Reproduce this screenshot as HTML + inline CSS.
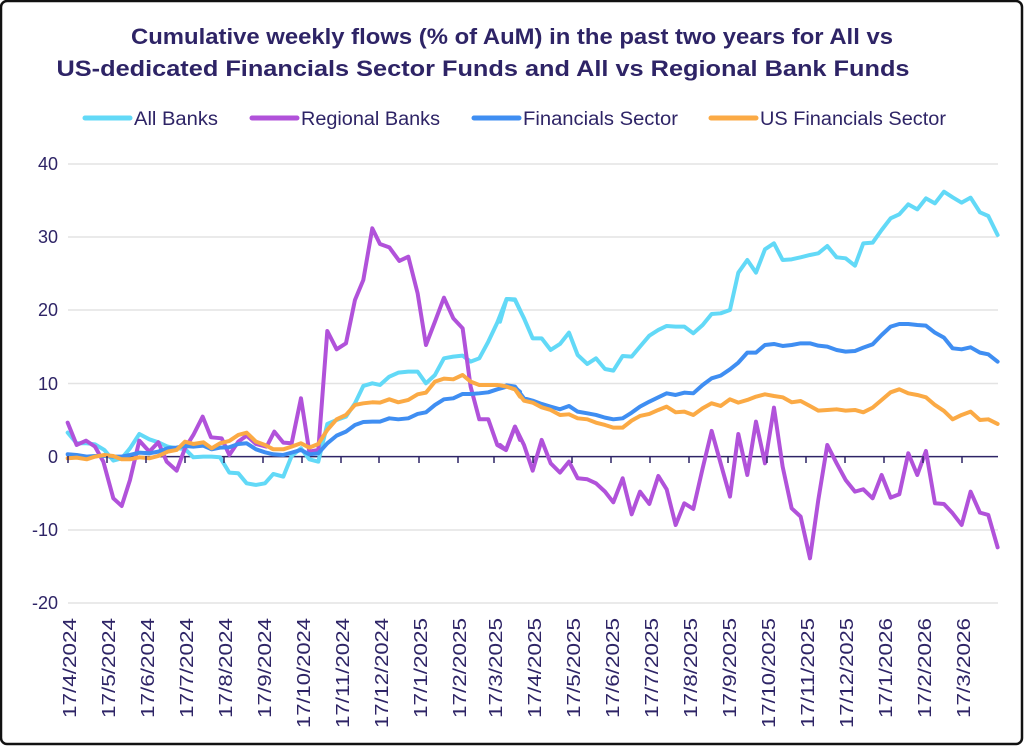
<!DOCTYPE html>
<html><head><meta charset="utf-8"><style>
html,body{margin:0;padding:0;background:#fff;}
svg{display:block;}
text{font-family:"Liberation Sans",sans-serif;fill:#2e2466;}
</style></head><body>
<svg width="1024" height="746" viewBox="0 0 1024 746" xmlns="http://www.w3.org/2000/svg">
<rect x="1" y="1" width="1021" height="743" rx="6" fill="#fff" stroke="#111" stroke-width="2.5"/>
<text x="512" y="44" text-anchor="middle" font-size="22" font-weight="bold" textLength="762" lengthAdjust="spacingAndGlyphs">Cumulative weekly flows (% of AuM) in the past two years for All vs</text>
<text x="483" y="76" text-anchor="middle" font-size="22" font-weight="bold" textLength="853" lengthAdjust="spacingAndGlyphs">US-dedicated Financials Sector Funds and All vs Regional Bank Funds</text>
<g stroke-width="5" stroke-linecap="round">
<line x1="85" y1="118" x2="130" y2="118" stroke="#62d9f7"/>
<line x1="252" y1="118" x2="297" y2="118" stroke="#b152da"/>
<line x1="474" y1="118" x2="519" y2="118" stroke="#3f8ef2"/>
<line x1="711" y1="118" x2="756" y2="118" stroke="#fbaa45"/>
</g>
<g font-size="19">
<text x="134" y="125" textLength="84" lengthAdjust="spacingAndGlyphs">All Banks</text>
<text x="301" y="125" textLength="139" lengthAdjust="spacingAndGlyphs">Regional Banks</text>
<text x="523" y="125" textLength="155" lengthAdjust="spacingAndGlyphs">Financials Sector</text>
<text x="760" y="125" textLength="186" lengthAdjust="spacingAndGlyphs">US Financials Sector</text>
</g>
<g stroke="#e3e3e3" stroke-width="1.5">
<line x1="68" y1="164" x2="998" y2="164"/>
<line x1="68" y1="237" x2="998" y2="237"/>
<line x1="68" y1="310" x2="998" y2="310"/>
<line x1="68" y1="383.5" x2="998" y2="383.5"/>
<line x1="68" y1="530" x2="998" y2="530"/>
<line x1="68" y1="603" x2="998" y2="603"/>
</g>
<g font-size="18" text-anchor="end">
<text x="58" y="170">40</text><text x="58" y="243">30</text><text x="58" y="316">20</text>
<text x="58" y="390">10</text><text x="58" y="463">0</text><text x="58" y="536">-10</text><text x="58" y="609">-20</text>
</g>
<line x1="68" y1="456.6" x2="998" y2="456.6" stroke="#2e2466" stroke-width="1.5"/>
<g fill="none" stroke-width="12" stroke-linejoin="round" stroke-linecap="round">
<g transform="translate(40,150) scale(0.3333)">
<polyline stroke="#62d9f7" points="83,848 110,880 140,880 165,883 193,900 220,932 245,925 270,895 298,852 328,868 355,877 383,890 410,895 435,897 460,922 490,920 515,920 540,922 568,968 595,970 620,1000 648,1005 675,1000 700,972 730,980 755,918 783,895 808,928 835,935 862,822 890,810 918,800 945,760 970,708 997,700 1020,705 1048,680 1075,668 1105,665 1133,665 1158,700 1185,675 1212,625 1240,620 1268,617 1292,635 1318,625 1345,575 1372,518 1400,447 1425,448 1440,480"/>
<polyline stroke="#b152da" points="83,818 110,885 138,872 165,890 190,935 220,1045 245,1068 270,990 298,872 328,905 355,877 380,935 410,962 435,895 460,855 488,800 513,862 545,865 568,915 595,875 620,857 648,882 680,890 703,845 730,878 755,880 783,745 808,905 835,900 862,543 890,598 918,580 945,450 970,390 997,235 1020,282 1048,292 1078,333 1105,320 1133,430 1158,585 1185,515 1212,443 1240,505 1268,535 1292,710 1318,808 1345,808 1372,885 1398,900 1425,830 1440,870"/>
<polyline stroke="#3f8ef2" points="83,913 110,915 140,920 165,918 193,918 220,920 245,920 270,915 298,908 328,910 355,905 383,895 410,893 435,888 460,890 490,887 515,898 540,893 568,892 595,882 620,880 648,898 675,907 700,913 730,915 755,908 783,900 808,913 835,910 862,880 890,857 918,845 945,825 970,816 997,815 1020,815 1048,805 1075,808 1105,805 1133,792 1158,787 1185,765 1212,748 1240,745 1268,732 1292,732 1318,730 1345,727 1372,718 1400,710 1425,713 1440,725"/>
<polyline stroke="#fbaa45" points="83,925 110,923 140,928 165,920 193,915 220,918 245,928 270,928 298,922 328,925 355,918 383,905 410,900 435,875 460,882 490,877 515,895 540,880 568,873 595,855 620,848 648,875 675,885 700,898 730,898 755,890 783,880 808,893 835,882 862,840 890,808 918,795 945,765 970,760 997,757 1020,758 1048,748 1075,757 1105,750 1133,733 1158,728 1185,695 1212,686 1240,688 1268,675 1292,695 1318,705 1345,705 1372,705 1400,710 1425,718 1440,740"/>
</g>
<g transform="translate(500,150) scale(0.3333)">
<polyline stroke="#62d9f7" points="0,515 20,447 45,450 72,505 98,565 125,565 152,600 180,582 207,548 233,615 262,642 288,625 315,657 340,662 368,618 395,620 420,590 448,557 475,540 500,528 527,530 553,530 580,550 608,525 635,492 662,490 690,480 715,368 742,330 768,368 795,298 822,280 848,330 875,328 902,322 930,315 955,310 982,288 1010,322 1037,325 1065,347 1090,280 1118,278 1145,240 1172,205 1198,193 1225,163 1252,178 1278,145 1305,160 1332,125 1358,142 1385,158 1412,143 1440,187 1465,198 1493,255"/>
<polyline stroke="#b152da" points="0,885 18,900 45,830 72,885 98,962 125,870 152,940 180,968 207,935 233,985 262,988 288,1000 315,1025 340,1057 368,985 395,1093 420,1025 448,1062 475,978 500,1018 527,1125 553,1060 580,1077 608,955 635,843 662,940 690,1040 715,852 742,975 768,815 795,940 822,773 848,950 875,1075 902,1100 930,1225 955,1050 982,885 1010,940 1037,990 1065,1025 1090,1018 1118,1045 1145,975 1172,1043 1198,1033 1225,910 1252,975 1278,903 1305,1060 1332,1062 1358,1090 1385,1125 1412,1025 1440,1088 1465,1095 1493,1192"/>
<polyline stroke="#3f8ef2" points="0,715 20,706 45,710 72,745 98,752 125,762 152,770 180,778 207,768 233,785 262,790 288,795 315,803 340,808 368,805 395,788 420,770 448,755 475,742 500,730 527,735 553,728 580,730 608,705 635,685 662,677 690,658 715,638 742,608 768,608 795,585 822,582 848,588 875,585 902,580 930,580 955,587 982,590 1010,600 1037,605 1065,603 1090,593 1118,583 1145,555 1172,530 1198,522 1225,522 1252,525 1278,527 1305,548 1332,563 1358,595 1385,598 1412,592 1440,608 1465,613 1493,635"/>
<polyline stroke="#fbaa45" points="0,706 20,710 45,718 72,752 98,758 125,772 152,780 180,795 207,793 233,805 262,808 288,818 315,825 340,833 368,833 395,812 420,798 448,792 475,780 500,770 527,787 553,785 580,795 608,775 635,760 662,768 690,748 715,758 742,750 768,740 795,733 822,738 848,742 875,757 902,753 930,768 955,782 982,780 1010,778 1037,782 1065,780 1090,787 1118,773 1145,750 1172,727 1198,718 1225,730 1252,735 1278,742 1305,765 1332,783 1358,808 1385,795 1412,785 1440,810 1465,808 1493,822"/>
</g>
</g>
<g stroke="#2e2466" stroke-width="1.5">
<line x1="68" y1="456" x2="68" y2="463"/><line x1="107" y1="456" x2="107" y2="463"/><line x1="146" y1="456" x2="146" y2="463"/><line x1="185" y1="456" x2="185" y2="463"/><line x1="224" y1="456" x2="224" y2="463"/><line x1="263" y1="456" x2="263" y2="463"/><line x1="302" y1="456" x2="302" y2="463"/><line x1="341" y1="456" x2="341" y2="463"/><line x1="379" y1="456" x2="379" y2="463"/><line x1="419" y1="456" x2="419" y2="463"/><line x1="458" y1="456" x2="458" y2="463"/><line x1="494" y1="456" x2="494" y2="463"/><line x1="533" y1="456" x2="533" y2="463"/><line x1="572" y1="456" x2="572" y2="463"/><line x1="611" y1="456" x2="611" y2="463"/><line x1="650" y1="456" x2="650" y2="463"/><line x1="689" y1="456" x2="689" y2="463"/><line x1="728" y1="456" x2="728" y2="463"/><line x1="767" y1="456" x2="767" y2="463"/><line x1="806" y1="456" x2="806" y2="463"/><line x1="845" y1="456" x2="845" y2="463"/><line x1="884" y1="456" x2="884" y2="463"/><line x1="923" y1="456" x2="923" y2="463"/><line x1="962" y1="456" x2="962" y2="463"/>
</g>
<g font-size="18" text-anchor="end">
<text transform="translate(76,618) rotate(-90)" textLength="100" lengthAdjust="spacingAndGlyphs">17/4/2024</text>
<text transform="translate(115,618) rotate(-90)" textLength="100" lengthAdjust="spacingAndGlyphs">17/5/2024</text>
<text transform="translate(154,618) rotate(-90)" textLength="100" lengthAdjust="spacingAndGlyphs">17/6/2024</text>
<text transform="translate(193,618) rotate(-90)" textLength="100" lengthAdjust="spacingAndGlyphs">17/7/2024</text>
<text transform="translate(232,618) rotate(-90)" textLength="100" lengthAdjust="spacingAndGlyphs">17/8/2024</text>
<text transform="translate(271,618) rotate(-90)" textLength="100" lengthAdjust="spacingAndGlyphs">17/9/2024</text>
<text transform="translate(310,618) rotate(-90)" textLength="110" lengthAdjust="spacingAndGlyphs">17/10/2024</text>
<text transform="translate(349,618) rotate(-90)" textLength="110" lengthAdjust="spacingAndGlyphs">17/11/2024</text>
<text transform="translate(388,618) rotate(-90)" textLength="110" lengthAdjust="spacingAndGlyphs">17/12/2024</text>
<text transform="translate(427,618) rotate(-90)" textLength="100" lengthAdjust="spacingAndGlyphs">17/1/2025</text>
<text transform="translate(466,618) rotate(-90)" textLength="100" lengthAdjust="spacingAndGlyphs">17/2/2025</text>
<text transform="translate(502,618) rotate(-90)" textLength="100" lengthAdjust="spacingAndGlyphs">17/3/2025</text>
<text transform="translate(541,618) rotate(-90)" textLength="100" lengthAdjust="spacingAndGlyphs">17/4/2025</text>
<text transform="translate(580,618) rotate(-90)" textLength="100" lengthAdjust="spacingAndGlyphs">17/5/2025</text>
<text transform="translate(619,618) rotate(-90)" textLength="100" lengthAdjust="spacingAndGlyphs">17/6/2025</text>
<text transform="translate(658,618) rotate(-90)" textLength="100" lengthAdjust="spacingAndGlyphs">17/7/2025</text>
<text transform="translate(697,618) rotate(-90)" textLength="100" lengthAdjust="spacingAndGlyphs">17/8/2025</text>
<text transform="translate(736,618) rotate(-90)" textLength="100" lengthAdjust="spacingAndGlyphs">17/9/2025</text>
<text transform="translate(775,618) rotate(-90)" textLength="110" lengthAdjust="spacingAndGlyphs">17/10/2025</text>
<text transform="translate(814,618) rotate(-90)" textLength="110" lengthAdjust="spacingAndGlyphs">17/11/2025</text>
<text transform="translate(853,618) rotate(-90)" textLength="110" lengthAdjust="spacingAndGlyphs">17/12/2025</text>
<text transform="translate(892,618) rotate(-90)" textLength="100" lengthAdjust="spacingAndGlyphs">17/1/2026</text>
<text transform="translate(931,618) rotate(-90)" textLength="100" lengthAdjust="spacingAndGlyphs">17/2/2026</text>
<text transform="translate(970,618) rotate(-90)" textLength="100" lengthAdjust="spacingAndGlyphs">17/3/2026</text>
</g>
</svg>
</body></html>
